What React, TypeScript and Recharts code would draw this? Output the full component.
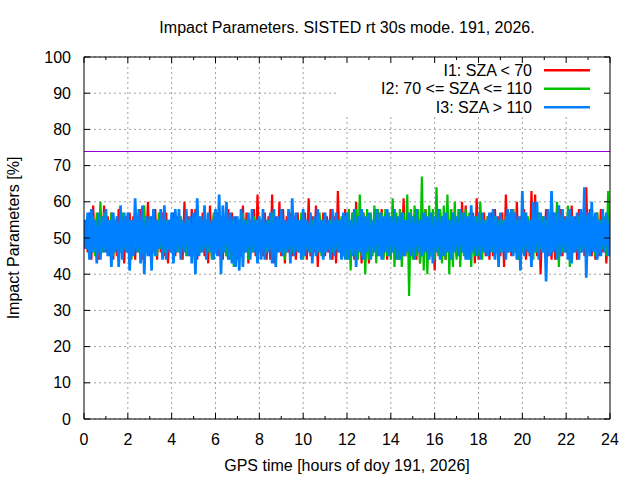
import React from 'react';
import { LineChart, Line, XAxis, YAxis, CartesianGrid, ReferenceLine, ReferenceArea } from 'recharts';

// ---------- text ----------
const TITLE = 'Impact Parameters. SISTED rt 30s mode. 191, 2026.';
const X_LABEL = 'GPS time [hours of doy 191, 2026]';
const Y_LABEL = 'Impact Parameters [%]';
const SERIES_NAMES = ['I1: SZA < 70', 'I2: 70 <= SZA <= 110', 'I3: SZA > 110'];
const SERIES_KEYS = ['i1', 'i2', 'i3'];
const SERIES_COLORS = ['#ff0000', '#00c000', '#0080ff'];
const SERIES_WIDTHS = [2.2, 2.2, 2.7];

// ---------- axes ----------
const X_TICKS = [0, 1, 2, 3, 4, 5, 6, 7, 8, 9, 10, 11, 12, 13, 14, 15, 16, 17, 18, 19, 20, 21, 22, 23, 24];
const X_GRID_HOURS = [2, 4, 6, 8, 10, 12, 14, 16, 18, 20, 22];
const Y_TICKS = [0, 10, 20, 30, 40, 50, 60, 70, 80, 90, 100];
const THRESHOLD = 74;
const SAMPLE_STEP_HOURS = 5 / 60;

// ---------- series values (one row per hour, 5-minute samples) ----------
const I1 = [
  47, 55, 46, 57, 44, 59, 46, 55, 44, 57, 46, 59,
  46, 56, 45, 57, 44, 55, 45, 58, 46, 55, 43, 56,
  46, 57, 45, 56, 44, 55, 46, 58, 44, 55, 46, 60,
  45, 56, 46, 58, 44, 55, 46, 57, 45, 57, 43, 55,
  46, 57, 45, 56, 47, 55, 44, 60, 46, 56, 45, 58,
  46, 58, 44, 55, 46, 57, 45, 55, 43, 59, 45, 56,
  46, 57, 45, 56, 44, 55, 45, 58, 46, 57, 45, 56,
  44, 55, 45, 59, 46, 57, 43, 55, 46, 58, 45, 62,
  46, 55, 45, 57, 44, 56, 44, 62, 43, 56, 46, 60,
  45, 58, 43, 56, 46, 57, 45, 56, 44, 57, 46, 55,
  45, 57, 44, 61, 45, 56, 46, 59, 42, 56, 46, 57,
  45, 56, 46, 58, 44, 56, 43, 63, 46, 55, 45, 58,
  46, 56, 45, 57, 44, 60, 46, 55, 43, 57, 44, 55,
  43, 56, 46, 57, 45, 55, 46, 58, 45, 55, 44, 56,
  45, 57, 46, 56, 44, 55, 46, 61, 45, 56, 46, 57,
  45, 56, 44, 55, 43, 57, 45, 58, 46, 56, 45, 55,
  41, 56, 46, 57, 45, 56, 44, 55, 45, 58, 46, 55,
  45, 56, 44, 60, 46, 59, 45, 56, 46, 57, 43, 61,
  44, 56, 46, 57, 45, 56, 44, 57, 45, 58, 46, 56,
  45, 57, 42, 62, 46, 56, 45, 58, 46, 60, 44, 56,
  46, 58, 44, 55, 45, 63, 46, 62, 45, 57, 40, 56,
  46, 58, 45, 56, 44, 57, 44, 56, 46, 58, 45, 56,
  46, 57, 45, 59, 46, 56, 44, 58, 46, 57, 45, 64,
  46, 58, 45, 56, 44, 57, 45, 58, 46, 55, 43, 56,
  46,
];

const I2 = [
  48, 54, 47, 55, 46, 56, 45, 57, 46, 60, 46, 57,
  47, 55, 46, 57, 45, 55, 47, 54, 46, 57, 47, 54,
  46, 55, 44, 54, 47, 55, 46, 54, 47, 59, 46, 55,
  47, 54, 46, 55, 45, 57, 47, 54, 46, 55, 47, 54,
  46, 55, 47, 54, 46, 56, 47, 54, 45, 55, 47, 54,
  46, 55, 47, 56, 46, 54, 47, 55, 46, 54, 44, 57,
  46, 55, 47, 54, 46, 55, 45, 54, 44, 55, 42, 54,
  46, 55, 47, 57, 46, 55, 44, 54, 46, 56, 47, 55,
  46, 55, 47, 54, 46, 55, 47, 57, 46, 55, 47, 54,
  46, 55, 44, 54, 47, 55, 46, 54, 47, 55, 46, 57,
  44, 55, 47, 54, 46, 55, 47, 54, 46, 57, 45, 55,
  46, 54, 47, 55, 46, 54, 47, 55, 46, 56, 45, 56,
  44, 58, 41, 57, 45, 58, 44, 62, 45, 57, 40, 58,
  44, 57, 45, 59, 43, 58, 45, 57, 44, 58, 45, 57,
  44, 61, 42, 57, 44, 58, 42, 57, 45, 62, 34, 58,
  44, 59, 45, 58, 43, 67, 41, 58, 40, 59, 45, 58,
  44, 64, 45, 58, 43, 59, 44, 62, 40, 58, 42, 60,
  44, 58, 42, 57, 45, 58, 44, 57, 42, 56, 45, 56,
  45, 60, 44, 55, 46, 56, 47, 55, 46, 56, 47, 55,
  46, 55, 47, 56, 46, 57, 47, 58, 46, 55, 44, 55,
  46, 57, 47, 56, 46, 55, 44, 56, 46, 57, 47, 56,
  46, 55, 47, 56, 46, 55, 47, 60, 42, 56, 46, 55,
  46, 59, 42, 56, 46, 55, 47, 56, 46, 55, 47, 56,
  46, 55, 47, 56, 45, 57, 46, 55, 47, 56, 45, 63,
  45,
];

const I3 = [
  55, 47, 57, 44, 58, 46, 55, 43, 57, 44, 56, 46,
  58, 45, 55, 42, 57, 46, 56, 42, 59, 44, 57, 46,
  57, 41, 55, 45, 61, 46, 58, 43, 59, 40, 56, 45,
  56, 41, 58, 45, 55, 47, 58, 44, 59, 44, 55, 46,
  57, 43, 58, 46, 58, 44, 55, 46, 58, 45, 56, 43,
  57, 40, 61, 45, 56, 46, 59, 44, 57, 46, 55, 44,
  58, 45, 62, 40, 59, 46, 60, 44, 57, 43, 56, 42,
  56, 41, 58, 42, 55, 46, 57, 44, 58, 46, 55, 43,
  56, 44, 58, 44, 55, 46, 57, 43, 58, 42, 56, 46,
  58, 45, 55, 46, 58, 43, 61, 45, 57, 46, 55, 44,
  58, 45, 55, 46, 57, 43, 56, 45, 58, 46, 55, 44,
  57, 46, 55, 44, 58, 45, 57, 46, 55, 44, 57, 44,
  57, 44, 55, 45, 58, 42, 56, 46, 58, 44, 56, 46,
  57, 44, 55, 46, 58, 45, 57, 44, 56, 46, 58, 45,
  56, 46, 58, 44, 56, 44, 57, 45, 55, 46, 57, 45,
  56, 44, 58, 46, 55, 45, 57, 46, 56, 44, 57, 43,
  56, 46, 58, 44, 56, 45, 57, 46, 55, 44, 57, 46,
  56, 45, 58, 46, 57, 44, 56, 44, 59, 46, 56, 45,
  57, 44, 57, 46, 55, 45, 57, 46, 58, 44, 56, 42,
  57, 46, 55, 44, 58, 46, 58, 45, 57, 44, 56, 41,
  63, 45, 57, 46, 55, 42, 60, 46, 60, 44, 57, 46,
  56, 38, 58, 45, 63, 46, 57, 44, 59, 45, 58, 46,
  56, 44, 58, 43, 56, 46, 57, 44, 58, 46, 64, 39,
  57, 45, 60, 46, 57, 44, 55, 45, 58, 46, 57, 45,
  56,
];

const TABLE = I3.map((_, i) => ({ t: i * SAMPLE_STEP_HOURS, i1: I1[i], i2: I2[i], i3: I3[i] }));

// ---------- layout ----------
const W = 640;
const H = 480;
const PLOT_LEFT = 84;
const PLOT_TOP = 57;
const PLOT_RIGHT = 610;
const PLOT_BOTTOM = 419;
const PLOT_W = PLOT_RIGHT - PLOT_LEFT;
const FONT = '"Liberation Sans", Arial, sans-serif';
const FS = 16;
const GRID = '#a0a0a0';

const BottomTick = (props: any) => {
  const { x, y, payload } = props;
  const v = payload.value;
  const major = v % 2 === 0;
  return (
    <g>
      <line x1={x} x2={x} y1={y} y2={y - (major ? 6 : 3)} stroke="#000" strokeWidth={1} />
      {major && (
        <text x={x} y={y + 26} textAnchor="middle" fontFamily={FONT} fontSize={FS} fill="#000">
          {v}
        </text>
      )}
    </g>
  );
};

const TopTick = (props: any) => {
  const { x, y, payload } = props;
  const major = payload.value % 2 === 0;
  return <line x1={x} x2={x} y1={y} y2={y + (major ? 6 : 3)} stroke="#000" strokeWidth={1} />;
};

const LeftTick = (props: any) => {
  const { x, y, payload } = props;
  return (
    <g>
      <line x1={x} x2={x + 6} y1={y} y2={y} stroke="#000" strokeWidth={1} />
      <text x={x - 13} y={y + 5.5} textAnchor="end" fontFamily={FONT} fontSize={FS} fill="#000">
        {payload.value}
      </text>
    </g>
  );
};

const RightTick = (props: any) => {
  const { x, y } = props;
  return <line x1={x - 6} x2={x} y1={y} y2={y} stroke="#000" strokeWidth={1} />;
};

const LEGEND_ROWS_Y = [70.3, 88.7, 107.3];

export default function App() {
  const gridX = X_GRID_HOURS.map((h) => PLOT_LEFT + (h / 24) * PLOT_W);
  return (
    <div style={{ position: 'absolute', left: 0, top: 0, width: W, height: H, background: '#fff' }}>
      <LineChart
        width={W}
        height={H}
        data={TABLE}
        margin={{ top: PLOT_TOP - 30, right: 0, bottom: 0, left: 0 }}
      >
        <CartesianGrid
          stroke={GRID}
          strokeDasharray="2 3"
          verticalPoints={gridX}
          fill="none"
        />
        <ReferenceArea
          x1={11.5}
          x2={24}
          y1={83.4}
          y2={100}
          fill="#ffffff"
          fillOpacity={1}
          stroke="none"
          ifOverflow="visible"
        />
        <ReferenceLine y={THRESHOLD} stroke="#9400d3" strokeWidth={1} shapeRendering="crispEdges" />
        {SERIES_KEYS.map((k, i) => (
          <Line
            key={k}
            type="linear"
            dataKey={k}
            stroke={SERIES_COLORS[i]}
            strokeWidth={SERIES_WIDTHS[i]}
            dot={false}
            activeDot={false}
            isAnimationActive={false}
          />
        ))}
        <XAxis
          dataKey="t"
          type="number"
          domain={[0, 24]}
          ticks={X_TICKS}
          interval={0}
          height={H - PLOT_BOTTOM}
          tickSize={0}
          tickMargin={0}
          tickLine={false}
          axisLine={{ stroke: '#000' }}
          tick={<BottomTick />}
          allowDataOverflow
        />
        <XAxis
          xAxisId="top"
          orientation="top"
          dataKey="t"
          type="number"
          domain={[0, 24]}
          ticks={X_TICKS}
          interval={0}
          height={30}
          tickSize={0}
          tickMargin={0}
          tickLine={false}
          axisLine={{ stroke: '#000' }}
          tick={<TopTick />}
          allowDataOverflow
        />
        <YAxis
          type="number"
          domain={[0, 100]}
          ticks={Y_TICKS}
          interval={0}
          width={PLOT_LEFT}
          tickSize={0}
          tickMargin={0}
          tickLine={false}
          axisLine={{ stroke: '#000' }}
          tick={<LeftTick />}
          allowDataOverflow
        />
        <YAxis
          yAxisId="right"
          orientation="right"
          type="number"
          domain={[0, 100]}
          ticks={Y_TICKS}
          interval={0}
          width={W - PLOT_RIGHT}
          tickSize={0}
          tickMargin={0}
          tickLine={false}
          axisLine={{ stroke: '#000' }}
          tick={<RightTick />}
          allowDataOverflow
        />
      </LineChart>
      <svg
        width={W}
        height={H}
        style={{ position: 'absolute', left: 0, top: 0, pointerEvents: 'none' }}
        fontFamily={FONT}
        fontSize={FS}
      >
        <text x={347} y={33} textAnchor="middle" fill="#000">{TITLE}</text>
        <text x={347} y={471} textAnchor="middle" fill="#000">{X_LABEL}</text>
        <text
          x={0}
          y={0}
          transform={`translate(19, 238) rotate(-90)`}
          textAnchor="middle"
          fill="#000"
        >
          {Y_LABEL}
        </text>
        {SERIES_NAMES.map((name, i) => (
          <g key={name}>
            <text x={532} y={LEGEND_ROWS_Y[i] + 5.5} textAnchor="end" fill="#000">{name}</text>
            <line
              x1={544}
              x2={590}
              y1={LEGEND_ROWS_Y[i]}
              y2={LEGEND_ROWS_Y[i]}
              stroke={SERIES_COLORS[i]}
              strokeWidth={2.5}
            />
          </g>
        ))}
      </svg>
    </div>
  );
}
